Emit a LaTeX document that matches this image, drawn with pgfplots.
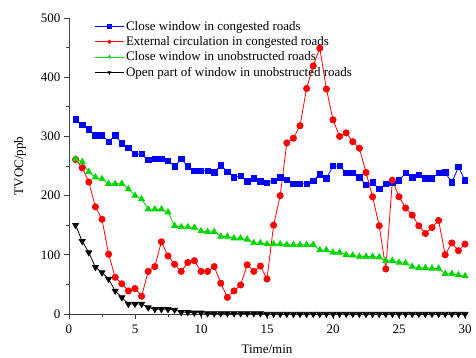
\documentclass[border=0pt]{standalone}
\usepackage{pgfplots}
\usepackage{pgfplotstable}
\usepackage{fontspec}
\setmainfont{Liberation Serif}
\pgfplotsset{compat=1.18}
\definecolor{cblue}{RGB}{0,0,255}
\definecolor{cred}{RGB}{255,0,0}
\definecolor{cgreen}{RGB}{0,215,0}
\pgfplotstableread{
t blue red green black
0.5 329 261 262 150
1 319 247 257 123
1.5 312 223 240 104
2 302 181 231 79
2.5 302 160 228 70
3 291 101 220 59
3.5 302 62 220 39
4 288 51 220 28
4.5 281 39 211 17
5 270 43 200 17
5.5 270 30 194 17
6 260 72 177 11
6.5 262 80 177 8
7 262 122 177 8
7.5 259 98 172 8
8 249 84 149 7
8.5 262 72 147 3
9 249 87 147 3
9.5 242 90 146 2
10 242 72 140 2
10.5 242 72 139 1
11 239 80 139 1
11.5 251 52 131 1
12 240 28 131 1
12.5 231 39 128 1
13 233 49 128 1
13.5 224 83 126 1
14 229 72 120 1
14.5 224 81 120 1
15 221 59 118 0
15.5 225 150 118 0
16 231 200 118 0
16.5 227 289 117 0
17 220 297 117 0
17.5 220 318 117 0
18 220 381 117 0
18.5 225 419 117 0
19 236 449 108 0
19.5 229 380 108 0
20 250 328 104 0
20.5 250 300 104 0
21 238 306 100 0
21.5 238 291 99 0
22 231 280 97 0
22.5 218 239 97 0
23 222 198 97 0
23.5 211 149 96 0
24 220 76 90 0
24.5 221 226 90 0
25 226 198 87 0
25.5 238 179 86 0
26 231 167 80 0
26.5 235 149 78 0
27 229 136 78 0
27.5 229 146 77 0
28 238 158 77 0
28.5 239 100 68 0
29 222 120 68 0
29.5 248 107 66 0
30 226 118 64 0
}\datatable
\begin{document}
\begin{tikzpicture}[font=\fontsize{13}{15.6}\selectfont]
\begin{axis}[
  name=main,
  scale only axis,
  width=396pt, height=296pt,
  xmin=0, xmax=30, ymin=0, ymax=500,
  axis x line*=bottom, axis y line*=left,
  x axis line style={-}, y axis line style={-},
  axis line style={black!75, line width=0.8pt},
  xtick={0,5,...,30}, ytick={0,100,...,500},
  minor x tick num=1, minor y tick num=1,
  tick align=outside,
  major tick length=5pt, minor tick length=3pt,
  tick style={black!75, line width=0.7pt},
  /pgf/number format/assume math mode=true,
  xticklabel style={yshift=-2pt},
  xlabel={Time/min}, ylabel={TVOC/ppb},
  xlabel style={at={(axis description cs:0.5,-0.12)}, anchor=center},
  ylabel style={at={(axis description cs:-0.124,0.5)}, anchor=center},
  legend style={at={(0.062,1.0)}, anchor=north west, draw=none, fill=none,
    row sep=0.8pt, font=\fontsize{13}{15.6}\selectfont,
    inner sep=1pt},
  legend cell align=left,
  legend image code/.code={\draw[mark repeat=2,mark phase=2,#1] plot coordinates {(0cm,0cm)(0.5cm,0cm)(1cm,0cm)};},
  legend image post style={mark size=1.6pt},
  every axis plot/.append style={line width=0.8pt},
  clip=false,
]
\addplot[color=cblue, mark=square*, mark size=2.7pt] table[x=t,y=blue] {\datatable};
\addlegendentry{Close window in congested roads}
\addplot[color=cred, mark=*, mark size=3.1pt] table[x=t,y=red] {\datatable};
\addlegendentry{External circulation in congested roads}
\addplot[color=cgreen, mark=triangle*, mark size=3.4pt] table[x=t,y=green] {\datatable};
\addlegendentry{Close window in unobstructed roads}
\addplot[color=black, mark=triangle*, mark options={rotate=180}, mark size=3.4pt] table[x=t,y=black] {\datatable};
\addlegendentry{Open part of window in unobstructed roads}
\end{axis}
\path (main.south west) ++(-69pt,-42pt) rectangle ++(476pt,356pt);
\end{tikzpicture}
\end{document}
